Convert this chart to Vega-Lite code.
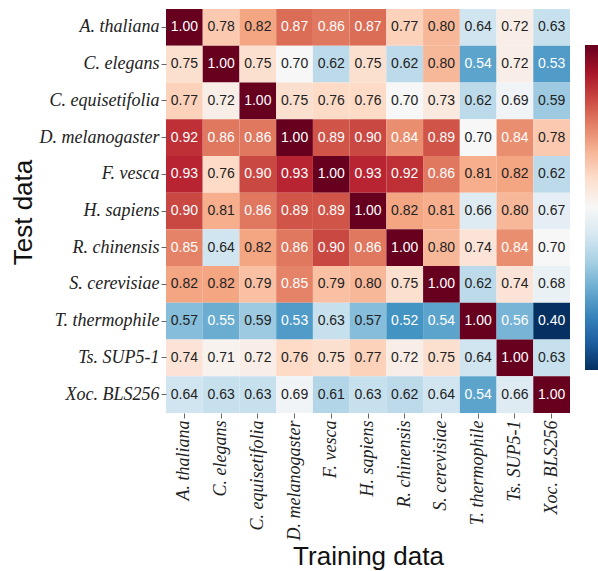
{
  "$schema": "https://vega.github.io/schema/vega-lite/v6.json",
  "width": 404,
  "height": 404,
  "autosize": {"type": "none"},
  "padding": {"left": 166, "top": 9, "right": 28, "bottom": 158},
  "background": "white",
  "config": {"view": {"stroke": null}},
  "datasets": {
    "m": [
      {"test":"A. thaliana","train":"A. thaliana","v":1.00},{"test":"A. thaliana","train":"C. elegans","v":0.78},{"test":"A. thaliana","train":"C. equisetifolia","v":0.82},{"test":"A. thaliana","train":"D. melanogaster","v":0.87},{"test":"A. thaliana","train":"F. vesca","v":0.86},{"test":"A. thaliana","train":"H. sapiens","v":0.87},{"test":"A. thaliana","train":"R. chinensis","v":0.77},{"test":"A. thaliana","train":"S. cerevisiae","v":0.80},{"test":"A. thaliana","train":"T. thermophile","v":0.64},{"test":"A. thaliana","train":"Ts. SUP5-1","v":0.72},{"test":"A. thaliana","train":"Xoc. BLS256","v":0.63},
      {"test":"C. elegans","train":"A. thaliana","v":0.75},{"test":"C. elegans","train":"C. elegans","v":1.00},{"test":"C. elegans","train":"C. equisetifolia","v":0.75},{"test":"C. elegans","train":"D. melanogaster","v":0.70},{"test":"C. elegans","train":"F. vesca","v":0.62},{"test":"C. elegans","train":"H. sapiens","v":0.75},{"test":"C. elegans","train":"R. chinensis","v":0.62},{"test":"C. elegans","train":"S. cerevisiae","v":0.80},{"test":"C. elegans","train":"T. thermophile","v":0.54},{"test":"C. elegans","train":"Ts. SUP5-1","v":0.72},{"test":"C. elegans","train":"Xoc. BLS256","v":0.53},
      {"test":"C. equisetifolia","train":"A. thaliana","v":0.77},{"test":"C. equisetifolia","train":"C. elegans","v":0.72},{"test":"C. equisetifolia","train":"C. equisetifolia","v":1.00},{"test":"C. equisetifolia","train":"D. melanogaster","v":0.75},{"test":"C. equisetifolia","train":"F. vesca","v":0.76},{"test":"C. equisetifolia","train":"H. sapiens","v":0.76},{"test":"C. equisetifolia","train":"R. chinensis","v":0.70},{"test":"C. equisetifolia","train":"S. cerevisiae","v":0.73},{"test":"C. equisetifolia","train":"T. thermophile","v":0.62},{"test":"C. equisetifolia","train":"Ts. SUP5-1","v":0.69},{"test":"C. equisetifolia","train":"Xoc. BLS256","v":0.59},
      {"test":"D. melanogaster","train":"A. thaliana","v":0.92},{"test":"D. melanogaster","train":"C. elegans","v":0.86},{"test":"D. melanogaster","train":"C. equisetifolia","v":0.86},{"test":"D. melanogaster","train":"D. melanogaster","v":1.00},{"test":"D. melanogaster","train":"F. vesca","v":0.89},{"test":"D. melanogaster","train":"H. sapiens","v":0.90},{"test":"D. melanogaster","train":"R. chinensis","v":0.84},{"test":"D. melanogaster","train":"S. cerevisiae","v":0.89},{"test":"D. melanogaster","train":"T. thermophile","v":0.70},{"test":"D. melanogaster","train":"Ts. SUP5-1","v":0.84},{"test":"D. melanogaster","train":"Xoc. BLS256","v":0.78},
      {"test":"F. vesca","train":"A. thaliana","v":0.93},{"test":"F. vesca","train":"C. elegans","v":0.76},{"test":"F. vesca","train":"C. equisetifolia","v":0.90},{"test":"F. vesca","train":"D. melanogaster","v":0.93},{"test":"F. vesca","train":"F. vesca","v":1.00},{"test":"F. vesca","train":"H. sapiens","v":0.93},{"test":"F. vesca","train":"R. chinensis","v":0.92},{"test":"F. vesca","train":"S. cerevisiae","v":0.86},{"test":"F. vesca","train":"T. thermophile","v":0.81},{"test":"F. vesca","train":"Ts. SUP5-1","v":0.82},{"test":"F. vesca","train":"Xoc. BLS256","v":0.62},
      {"test":"H. sapiens","train":"A. thaliana","v":0.90},{"test":"H. sapiens","train":"C. elegans","v":0.81},{"test":"H. sapiens","train":"C. equisetifolia","v":0.86},{"test":"H. sapiens","train":"D. melanogaster","v":0.89},{"test":"H. sapiens","train":"F. vesca","v":0.89},{"test":"H. sapiens","train":"H. sapiens","v":1.00},{"test":"H. sapiens","train":"R. chinensis","v":0.82},{"test":"H. sapiens","train":"S. cerevisiae","v":0.81},{"test":"H. sapiens","train":"T. thermophile","v":0.66},{"test":"H. sapiens","train":"Ts. SUP5-1","v":0.80},{"test":"H. sapiens","train":"Xoc. BLS256","v":0.67},
      {"test":"R. chinensis","train":"A. thaliana","v":0.85},{"test":"R. chinensis","train":"C. elegans","v":0.64},{"test":"R. chinensis","train":"C. equisetifolia","v":0.82},{"test":"R. chinensis","train":"D. melanogaster","v":0.86},{"test":"R. chinensis","train":"F. vesca","v":0.90},{"test":"R. chinensis","train":"H. sapiens","v":0.86},{"test":"R. chinensis","train":"R. chinensis","v":1.00},{"test":"R. chinensis","train":"S. cerevisiae","v":0.80},{"test":"R. chinensis","train":"T. thermophile","v":0.74},{"test":"R. chinensis","train":"Ts. SUP5-1","v":0.84},{"test":"R. chinensis","train":"Xoc. BLS256","v":0.70},
      {"test":"S. cerevisiae","train":"A. thaliana","v":0.82},{"test":"S. cerevisiae","train":"C. elegans","v":0.82},{"test":"S. cerevisiae","train":"C. equisetifolia","v":0.79},{"test":"S. cerevisiae","train":"D. melanogaster","v":0.85},{"test":"S. cerevisiae","train":"F. vesca","v":0.79},{"test":"S. cerevisiae","train":"H. sapiens","v":0.80},{"test":"S. cerevisiae","train":"R. chinensis","v":0.75},{"test":"S. cerevisiae","train":"S. cerevisiae","v":1.00},{"test":"S. cerevisiae","train":"T. thermophile","v":0.62},{"test":"S. cerevisiae","train":"Ts. SUP5-1","v":0.74},{"test":"S. cerevisiae","train":"Xoc. BLS256","v":0.68},
      {"test":"T. thermophile","train":"A. thaliana","v":0.57},{"test":"T. thermophile","train":"C. elegans","v":0.55},{"test":"T. thermophile","train":"C. equisetifolia","v":0.59},{"test":"T. thermophile","train":"D. melanogaster","v":0.53},{"test":"T. thermophile","train":"F. vesca","v":0.63},{"test":"T. thermophile","train":"H. sapiens","v":0.57},{"test":"T. thermophile","train":"R. chinensis","v":0.52},{"test":"T. thermophile","train":"S. cerevisiae","v":0.54},{"test":"T. thermophile","train":"T. thermophile","v":1.00},{"test":"T. thermophile","train":"Ts. SUP5-1","v":0.56},{"test":"T. thermophile","train":"Xoc. BLS256","v":0.40},
      {"test":"Ts. SUP5-1","train":"A. thaliana","v":0.74},{"test":"Ts. SUP5-1","train":"C. elegans","v":0.71},{"test":"Ts. SUP5-1","train":"C. equisetifolia","v":0.72},{"test":"Ts. SUP5-1","train":"D. melanogaster","v":0.76},{"test":"Ts. SUP5-1","train":"F. vesca","v":0.75},{"test":"Ts. SUP5-1","train":"H. sapiens","v":0.77},{"test":"Ts. SUP5-1","train":"R. chinensis","v":0.72},{"test":"Ts. SUP5-1","train":"S. cerevisiae","v":0.75},{"test":"Ts. SUP5-1","train":"T. thermophile","v":0.64},{"test":"Ts. SUP5-1","train":"Ts. SUP5-1","v":1.00},{"test":"Ts. SUP5-1","train":"Xoc. BLS256","v":0.63},
      {"test":"Xoc. BLS256","train":"A. thaliana","v":0.64},{"test":"Xoc. BLS256","train":"C. elegans","v":0.63},{"test":"Xoc. BLS256","train":"C. equisetifolia","v":0.63},{"test":"Xoc. BLS256","train":"D. melanogaster","v":0.69},{"test":"Xoc. BLS256","train":"F. vesca","v":0.61},{"test":"Xoc. BLS256","train":"H. sapiens","v":0.63},{"test":"Xoc. BLS256","train":"R. chinensis","v":0.62},{"test":"Xoc. BLS256","train":"S. cerevisiae","v":0.64},{"test":"Xoc. BLS256","train":"T. thermophile","v":0.54},{"test":"Xoc. BLS256","train":"Ts. SUP5-1","v":0.66},{"test":"Xoc. BLS256","train":"Xoc. BLS256","v":1.00}
    ]
  },
  "data": {"name": "m"},
  "encoding": {
    "x": {
      "field": "train", "type": "nominal",
      "sort": ["A. thaliana","C. elegans","C. equisetifolia","D. melanogaster","F. vesca","H. sapiens","R. chinensis","S. cerevisiae","T. thermophile","Ts. SUP5-1","Xoc. BLS256"],
      "scale": {"paddingInner": 0, "paddingOuter": 0},
      "axis": {
        "title": "Training data", "labelAngle": -90, "labelAlign": "right", "labelBaseline": "middle",
        "labelFont": "Liberation Serif", "labelFontStyle": "italic", "labelFontSize": 18, "labelColor": "#222222",
        "labelPadding": 2, "tickSize": 5, "tickColor": "#666666", "domain": false, "grid": false,
        "titleFont": "Liberation Sans", "titleFontSize": 26, "titleFontWeight": "normal", "titleColor": "#111111",
        "titleBaseline": "alphabetic", "titleY": 151, "titleX": 202, "titleAlign": "center"
      }
    },
    "y": {
      "field": "test", "type": "nominal",
      "sort": ["A. thaliana","C. elegans","C. equisetifolia","D. melanogaster","F. vesca","H. sapiens","R. chinensis","S. cerevisiae","T. thermophile","Ts. SUP5-1","Xoc. BLS256"],
      "scale": {"paddingInner": 0, "paddingOuter": 0},
      "axis": {
        "title": "Test data",
        "labelFont": "Liberation Serif", "labelFontStyle": "italic", "labelFontSize": 18, "labelColor": "#222222",
        "labelPadding": 2, "tickSize": 5, "tickColor": "#666666", "domain": false, "grid": false,
        "titleFont": "Liberation Sans", "titleFontSize": 26, "titleFontWeight": "normal", "titleColor": "#111111",
        "titleAngle": -90, "titleBaseline": "alphabetic", "titleX": -135, "titleY": 203, "titleAlign": "center"
      }
    }
  },
  "layer": [
    {
      "mark": {"type": "rect"},
      "encoding": {
        "color": {
          "field": "v", "type": "quantitative",
          "scale": {
            "domain": [0.4, 0.46, 0.52, 0.58, 0.64, 0.70, 0.76, 0.82, 0.88, 0.94, 1.0],
            "range": ["#053061","#2166ac","#4393c3","#92c5de","#d1e5f0","#f7f7f7","#fddbc7","#f4a582","#d6604d","#b2182b","#67001f"],
            "interpolate": "rgb"
          },
          "legend": {
            "orient": "none", "legendX": 419, "legendY": 36, "direction": "vertical",
            "gradientLength": 325, "gradientThickness": 14, "title": null,
            "labelExpr": "''", "labelFontSize": 1, "gradientStrokeWidth": 0
          }
        }
      }
    },
    {
      "mark": {"type": "text", "font": "Liberation Sans", "fontSize": 14},
      "encoding": {
        "text": {"field": "v", "type": "quantitative", "format": ".2f"},
        "color": {
          "condition": {"test": "datum.v < 0.565 || datum.v > 0.835", "value": "#ffffff"},
          "value": "#222222"
        }
      }
    }
  ]
}
